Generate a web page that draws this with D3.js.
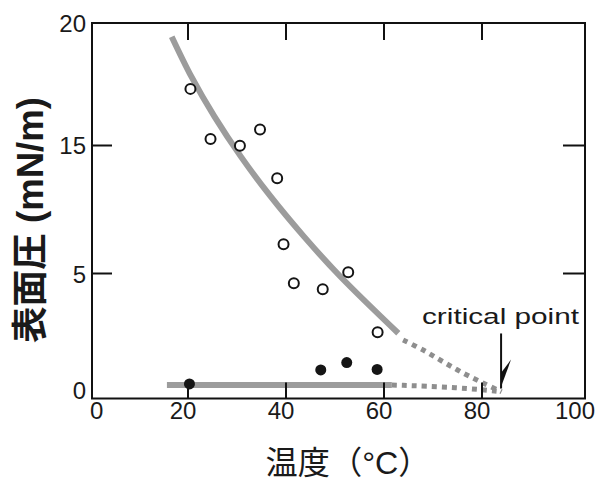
<!DOCTYPE html>
<html>
<head>
<meta charset="utf-8">
<script src="https://cdn.jsdelivr.net/npm/d3@7/dist/d3.min.js"></script>
<style>
  html, body { margin: 0; padding: 0; background: #ffffff; }
  svg { display: block; }
  text { font-family: "Liberation Sans", Arial, "Noto Sans CJK JP", sans-serif; fill: #1a1a1a; }
</style>
</head>
<body>
<svg id="chart" width="606" height="481"></svg>
<script>
// ---- data ----
const xTicks = [0, 20, 40, 60, 80, 100];
const yTicks = [0, 5, 15, 20];
const innerXTicks = [20, 40, 60, 80];
const innerYTicks = [5, 15];

// open circles: temperature (°C), surface pressure (mN/m)
const openT = [20.6, 24.7, 30.7, 34.8, 38.3, 39.6, 41.7, 47.6, 52.8, 58.8];
const openP = [17.3, 15.25, 14.95, 15.64, 12.4, 7.24, 4.59, 4.35, 5.05, 2.64];

// filled circles
const filledT = [20.4, 47.2, 52.5, 58.7];
const filledP = [0.58, 1.14, 1.43, 1.16];

// upper guide curve (solid part + dotted extrapolation)
const fitT = [16.78, 20.80, 25.51, 30.90, 37.0, 43.78, 51.24, 63.02];
const fitP = [19.44, 17.80, 16.16, 14.09, 10.96, 7.84, 4.85, 2.60];
const fitDotT = [64.0, 68.1, 72.2, 76.2, 80.3, 84.1];
const fitDotP = [2.33, 1.93, 1.46, 1.02, 0.62, 0.27];

// lower guide line (solid part + dotted extrapolation)
const lowT = [15.8, 61.7];
const lowP = [0.54, 0.54];
const lowDotT = [61.7, 75.6, 84.1];
const lowDotP = [0.54, 0.44, 0.27];

// annotation
const criticalLabel = "critical point";
const criticalT = 84.2, criticalP = 0.4;

const xTitle = "温度（°C）";
const yTitle = "表面圧 (mN/m)";

// ---- layout ----
const svg = d3.select("#chart");
const frame = { l: 92, r: 585, t: 23, b: 398.5 };
const x = d3.scaleLinear().domain([0, 100]).range([89.5, 579.5]);
const y = d3.scaleLinear().domain([0, 5, 15, 20]).range([398.5, 273, 145, 23]);

const zip = (a, b) => a.map((v, i) => [v, b[i]]);

// guide curves
const line = d3.line().x(d => x(d[0])).y(d => y(d[1]));
const smooth = d3.line().x(d => x(d[0])).y(d => y(d[1])).curve(d3.curveCatmullRom);
const soft = d3.line().x(d => x(d[0])).y(d => y(d[1])).curve(d3.curveBasis);

svg.append("path").datum(zip(fitT, fitP)).attr("d", smooth)
  .attr("fill", "none").attr("stroke", "#9c9c9c").attr("stroke-width", 6);
svg.append("path").datum(zip(fitDotT, fitDotP)).attr("d", smooth)
  .attr("fill", "none").attr("stroke", "#8e8e8e").attr("stroke-width", 5)
  .attr("stroke-dasharray", "5,5");
svg.append("path").datum(zip(lowT, lowP)).attr("d", line)
  .attr("fill", "none").attr("stroke", "#9c9c9c").attr("stroke-width", 6);
svg.append("path").datum(zip(lowDotT, lowDotP)).attr("d", soft)
  .attr("fill", "none").attr("stroke", "#8e8e8e").attr("stroke-width", 5)
  .attr("stroke-dasharray", "5,5");

// frame
svg.append("rect")
  .attr("x", frame.l).attr("y", frame.t)
  .attr("width", frame.r - frame.l).attr("height", frame.b - frame.t)
  .attr("fill", "none").attr("stroke", "#111").attr("stroke-width", 2);

// inward ticks
function styleTicks(g) {
  g.select(".domain").remove();
  g.selectAll(".tick line").attr("stroke", "#111").attr("stroke-width", 2);
  g.selectAll(".tick text").remove();
}
svg.append("g").attr("transform", `translate(0,${frame.b})`)
  .call(d3.axisBottom(x).tickValues(innerXTicks).tickSize(-16).tickFormat("")).call(styleTicks);
svg.append("g").attr("transform", `translate(0,${frame.t})`)
  .call(d3.axisTop(x).tickValues(innerXTicks).tickSize(-17).tickFormat("")).call(styleTicks);
svg.append("g").attr("transform", `translate(${frame.l},0)`)
  .call(d3.axisLeft(y).tickValues(innerYTicks).tickSize(-20).tickFormat("")).call(styleTicks);
svg.append("g").attr("transform", `translate(${frame.r},0)`)
  .call(d3.axisRight(y).tickValues(innerYTicks).tickSize(-22).tickFormat("")).call(styleTicks);

// tick labels
const xl = svg.append("g").attr("transform", `translate(0,${frame.b})`)
  .call(d3.axisBottom(x).tickValues(xTicks).tickSize(0).tickPadding(3.5).tickFormat(d3.format("d")));
xl.select(".domain").remove();
xl.selectAll(".tick text")
  .attr("font-size", 24).attr("fill", "#1a1a1a")
  .attr("font-family", "Liberation Sans, Arial, sans-serif")
  .attr("dx", d => d === 0 ? 0 : -5)
  .attr("text-anchor", d => d === 0 ? "start" : "middle");

const yl = svg.append("g").attr("transform", `translate(${frame.l},0)`)
  .call(d3.axisLeft(y).tickValues(yTicks).tickSize(0).tickPadding(6).tickFormat(d3.format("d")));
yl.select(".domain").remove();
yl.selectAll(".tick text")
  .attr("font-size", 24).attr("fill", "#1a1a1a")
  .attr("font-family", "Liberation Sans, Arial, sans-serif")
  .attr("y", d => d === 0 ? -8 : (d === 5 ? 2 : 1));

// data points
svg.append("g").selectAll("circle").data(zip(filledT, filledP)).join("circle")
  .attr("cx", d => x(d[0])).attr("cy", d => y(d[1])).attr("r", 5.5)
  .attr("fill", "#151515");
svg.append("g").selectAll("circle").data(zip(openT, openP)).join("circle")
  .attr("cx", d => x(d[0])).attr("cy", d => y(d[1])).attr("r", 5)
  .attr("fill", "#ffffff").attr("stroke", "#151515").attr("stroke-width", 2);

// critical point annotation
const ax = x(criticalT), ay = y(criticalP);
svg.append("line")
  .attr("x1", ax - 1).attr("x2", ax - 1).attr("y1", ay - 55).attr("y2", ay)
  .attr("stroke", "#111").attr("stroke-width", 2);
svg.append("path")
  .attr("d", `M${ax - 2},${ay + 1} L${ax + 9},${ay - 29} L${ax},${ay - 17} Z`)
  .attr("fill", "#111");
svg.append("text")
  .attr("x", 422).attr("y", 323.5)
  .attr("font-size", 22)
  .attr("textLength", 157).attr("lengthAdjust", "spacingAndGlyphs")
  .text(criticalLabel);

// axis titles
svg.append("text")
  .attr("x", 348).attr("y", 474)
  .attr("text-anchor", "middle")
  .attr("font-size", 32)
  .attr("textLength", 165).attr("lengthAdjust", "spacingAndGlyphs")
  .text(xTitle);

svg.append("text")
  .attr("transform", "translate(43,220) rotate(-90)")
  .attr("text-anchor", "middle")
  .attr("font-size", 36).attr("font-weight", "bold")
  .attr("textLength", 246).attr("lengthAdjust", "spacingAndGlyphs")
  .text(yTitle);
</script>
</body>
</html>
